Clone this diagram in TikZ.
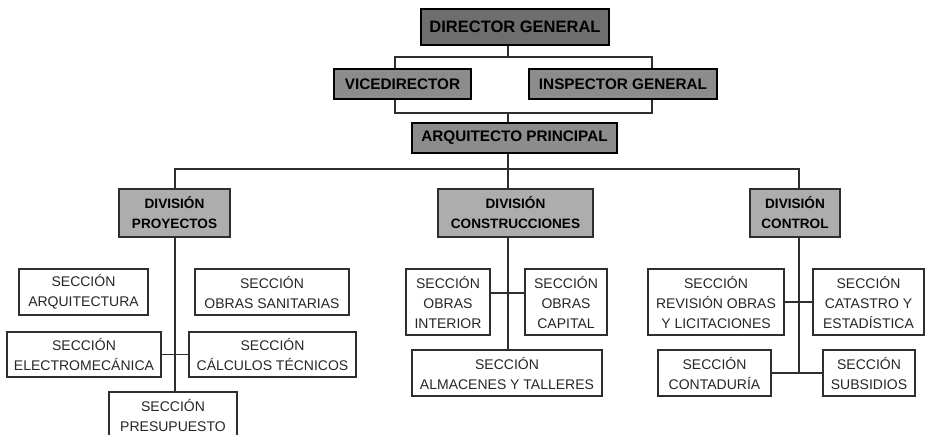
\documentclass[tikz,border=0pt]{standalone}
\usepackage{fontspec}
\setmainfont{Liberation Sans}
\usepackage{tikz}
\usetikzlibrary{calc}
\usepackage{xcolor}
\definecolor{box_dark}{HTML}{6E6E6E}
\definecolor{box_mid}{HTML}{8C8C8C}
\definecolor{box_light}{HTML}{ADADAD}
\definecolor{line_gray}{HTML}{2E2E2E}
\begin{document}
\begin{tikzpicture}[x=1pt,y=-1pt,
    boss/.style={draw=black,line width=1.3pt,fill=box_dark,inner sep=0pt,minimum height=36pt,font=\fontsize{16.5}{20}\selectfont\bfseries},
    chief/.style={draw=black,line width=1.3pt,fill=box_mid,inner sep=0pt,minimum height=30pt,font=\fontsize{15.3}{20}\selectfont\bfseries},
    divbox/.style={draw=line_gray,line width=1.2pt,fill=box_light,inner sep=0pt,minimum height=48pt,align=center,font=\fontsize{13.6}{20}\selectfont\bfseries},
    secbox/.style={draw=line_gray,line width=1.1pt,fill=white,inner sep=0pt,align=center,text=black!85,font=\fontsize{14}{20}\selectfont},
    link/.style={draw=line_gray,line width=1.1pt}]
              \useasboundingbox (0,0) rectangle (926,435);
              % top levels
              \node[boss,minimum width=188pt] (dir) at (515,27) {DIRECTOR GENERAL};
              \node[chief,minimum width=137pt] (vice) at (402.5,84) {VICEDIRECTOR};
              \node[chief,minimum width=188pt] (insp) at (623,84) {INSPECTOR GENERAL};
              \node[chief,minimum width=205pt] (arq) at (514.5,138) {ARQUITECTO PRINCIPAL};
              % divisions
              \node[divbox,minimum width=111pt] (proy) at (174.5,213) {DIVISIÓN\\PROYECTOS};
              \node[divbox,minimum width=155pt] (cons) at (515.5,213) {DIVISIÓN\\CONSTRUCCIONES};
              \node[divbox,minimum width=90pt] (ctrl) at (795,213) {DIVISIÓN\\CONTROL};
              % secciones proyectos
              \node[secbox,minimum width=129pt,minimum height=46pt] (arqt) at (83.5,292) {SECCIÓN\\ARQUITECTURA};
              \node[secbox,minimum width=154pt,minimum height=46pt] (sani) at (272,292) {SECCIÓN\\OBRAS SANITARIAS};
              \node[secbox,minimum width=154pt,minimum height=45pt] (elec) at (84,354.5) {SECCIÓN\\ELECTROMECÁNICA};
              \node[secbox,minimum width=167pt,minimum height=45pt] (calc) at (272.5,354.5) {SECCIÓN\\CÁLCULOS TÉCNICOS};
              \node[secbox,minimum width=128pt,minimum height=46pt] (pres) at (173,415) {SECCIÓN\\PRESUPUESTO};
              % secciones construcciones
              \node[secbox,minimum width=84pt,minimum height=66pt] (oint) at (448,302) {SECCIÓN\\OBRAS\\INTERIOR};
              \node[secbox,minimum width=82pt,minimum height=66pt] (ocap) at (566,302) {SECCIÓN\\OBRAS\\CAPITAL};
              \node[secbox,minimum width=190pt,minimum height=46pt] (alm) at (507,373) {SECCIÓN\\ALMACENES Y TALLERES};
              % secciones control
              \node[secbox,minimum width=136pt,minimum height=66pt] (rev) at (716,302) {SECCIÓN\\REVISIÓN OBRAS\\Y LICITACIONES};
              \node[secbox,minimum width=111pt,minimum height=66pt] (cat) at (868.5,302) {SECCIÓN\\CATASTRO Y\\ESTADÍSTICA};
              \node[secbox,minimum width=113pt,minimum height=46pt] (cont) at (714.5,373) {SECCIÓN\\CONTADURÍA};
              \node[secbox,minimum width=92pt,minimum height=46pt] (subs) at (869,373) {SECCIÓN\\SUBSIDIOS};
              % junctions
              \coordinate (b1) at (508,57);
              \coordinate (b2) at (508,113);
              \coordinate (b3) at (508,169);
              \coordinate (vl) at (395,57);
              \coordinate (vr) at (652,57);
              \coordinate (vl2) at (395,113);
              \coordinate (vr2) at (652,113);
              \coordinate (dl) at (175,169);
              \coordinate (dr) at (799,169);
              \coordinate (c1) at (508,293);
              \coordinate (k1) at (799,372);
              % connectors
              \draw[link] (dir.south -| b1) -- (b1);
              \draw[link] (vl |- vice.north) -- (vl) -- (vr) -- (vr |- insp.north);
              \draw[link] (vl |- vice.south) -- (vl2) -- (vr2) -- (vr |- insp.south);
              \draw[link] (b2) -- (b2 |- arq.north);
              \draw[link] (arq.south -| b3) -- (b3);
              \draw[link] (dl |- proy.north) -- (dl) -- (dr) -- (dr |- ctrl.north);
              \draw[link] (b3) -- (b3 |- cons.north);
              \draw[link] (proy.south -| dl) -- (dl |- pres.north);
              \draw[link] (elec.east) -- (calc.west);
              \draw[link] (cons.south -| b3) -- (b3 |- alm.north);
              \draw[link] (c1 -| oint.east) -- (c1 -| ocap.west);
              \draw[link] (ctrl.south -| dr) -- (k1);
              \draw[link] (rev.east) -- (cat.west);
              \draw[link] (cont.east) -- (subs.west);
          \end{tikzpicture}
\end{document}
